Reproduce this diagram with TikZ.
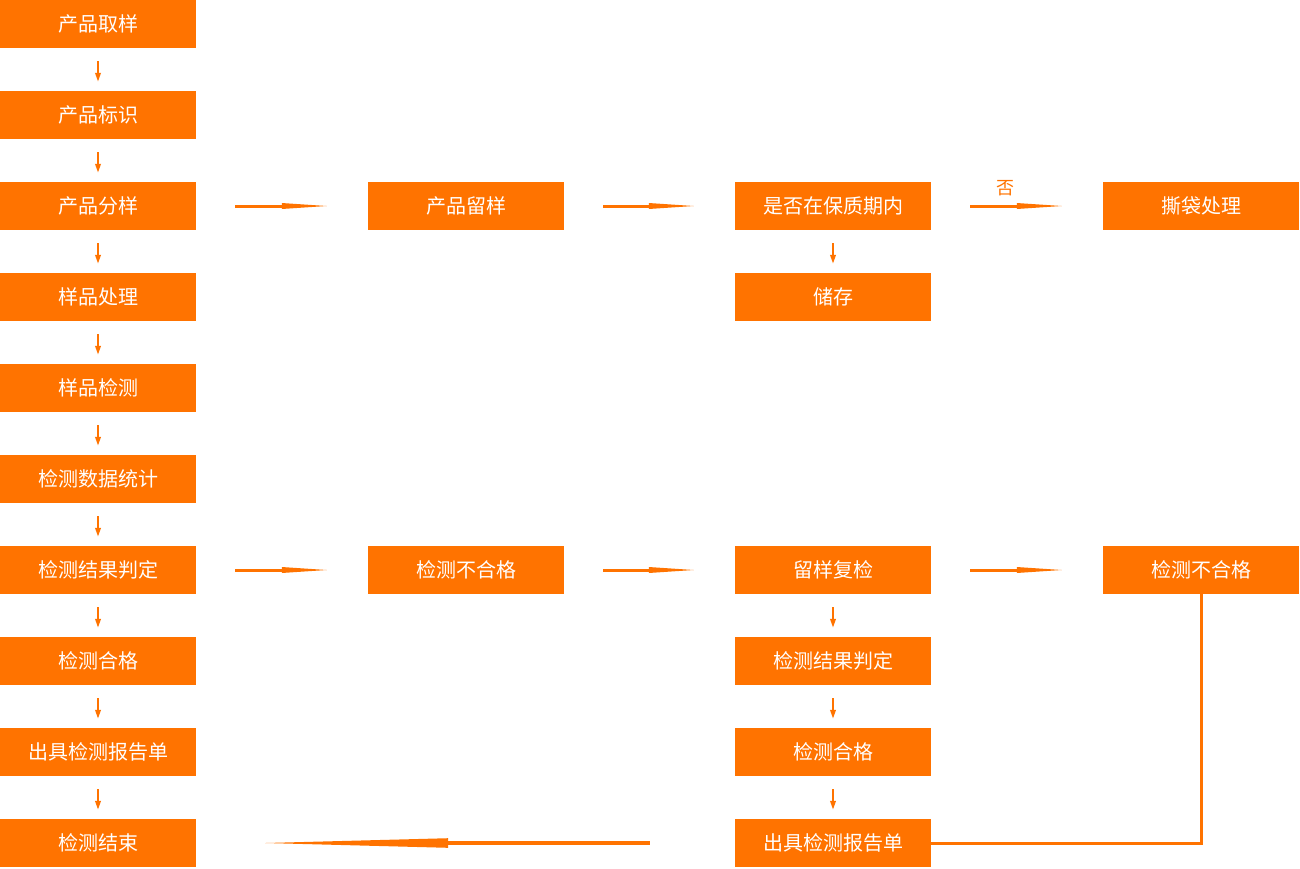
\documentclass[tikz,border=0pt]{standalone}
\usepackage{fontspec}
\newfontfamily\cjk{Noto Sans CJK SC}
\usetikzlibrary{arrows.meta,calc}
\definecolor{org}{HTML}{FF7300}
\begin{document}
\begin{tikzpicture}[x=1pt,y=-1pt,
  box/.style={fill=org,draw=none,minimum width=196pt,minimum height=48pt,inner sep=0pt,text=white,font=\cjk\fontsize{20}{20}\selectfont},
  varrow/.style={draw=org,line width=2pt,-{Triangle[length=9pt,width=5.5pt]},shorten <=13pt,shorten >=9pt},
  shaft/.style={draw=org,line width=3pt},
  head/.style={fill=org,draw=none},
  back/.style={draw=org,line width=3pt}]
\useasboundingbox (0,0) rectangle (1300,868);
% column 1
\node[box] (a1) at (98,24) {产品取样};
\node[box] (a2) at (98,115) {产品标识};
\node[box] (a3) at (98,206) {产品分样};
\node[box] (a4) at (98,297) {样品处理};
\node[box] (a5) at (98,388) {样品检测};
\node[box] (a6) at (98,479) {检测数据统计};
\node[box] (a7) at (98,570) {检测结果判定};
\node[box] (a8) at (98,661) {检测合格};
\node[box] (a9) at (98,752) {出具检测报告单};
\node[box] (a10) at (98,843) {检测结束};
% column 2
\node[box] (b3) at (466,206) {产品留样};
\node[box] (b7) at (466,570) {检测不合格};
% column 3
\node[box] (c3) at (833,206) {是否在保质期内};
\node[box] (c4) at (833,297) {储存};
\node[box] (c7) at (833,570) {留样复检};
\node[box] (c8) at (833,661) {检测结果判定};
\node[box] (c9) at (833,752) {检测合格};
\node[box] (c10) at (833,843) {出具检测报告单};
% column 4
\node[box] (d3) at (1201,206) {撕袋处理};
\node[box] (d7) at (1201,570) {检测不合格};
% vertical arrows
\foreach \i/\j in {a1/a2,a2/a3,a3/a4,a4/a5,a5/a6,a6/a7,a7/a8,a8/a9,a9/a10,c3/c4,c7/c8,c8/c9,c9/c10}
  \draw[varrow] (\i.south) -- (\j.north);
% horizontal arrows
\foreach \i/\j in {a3/b3,b3/c3,c3/d3,a7/b7,b7/c7,c7/d7}{
  \draw[shaft] ($(\i.east)+(39,0)$) -- ($(\j.west)+(-80,0)$);
  \fill[head] ($(\j.west)+(-41,0)$) -- ($(\j.west)+(-86,-3)$) -- ($(\j.west)+(-86,3)$) -- cycle;
}
\node[text=org,font=\cjk\fontsize{18}{18}\selectfont] (no) at (1005,188) {否};
% feedback
\draw[back] (d7.south) |- (c10.east);
\draw[draw=org,line width=4.5pt] ($(c10.west)+(-85,0)$) -- ($(a10.east)+(240,0)$);
\fill[head] ($(a10.east)+(69,0)$) -- ($(a10.east)+(252,-4.8)$) -- ($(a10.east)+(252,4.8)$) -- cycle;
\end{tikzpicture}
\end{document}
